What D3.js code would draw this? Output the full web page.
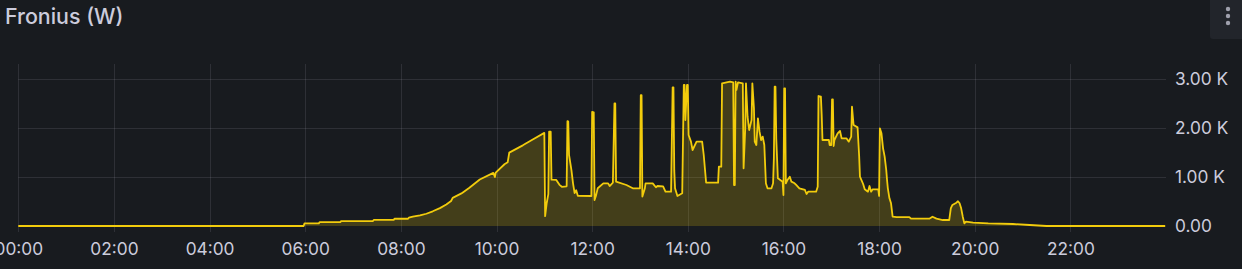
<!DOCTYPE html>
<html><head><meta charset="utf-8">
<script src="https://cdn.jsdelivr.net/npm/d3@7/dist/d3.min.js"></script>
<style>
html,body{margin:0;padding:0;background:#181b1f;overflow:hidden;}
svg{display:block;font-family:Inter,"Noto Sans",sans-serif;}
</style></head>
<body>
<svg id="chart" width="1242" height="269"></svg>
<script>
const title = "Fronius (W)";
const xTickLabels = ["00:00","02:00","04:00","06:00","08:00","10:00","12:00","14:00","16:00","18:00","20:00","22:00"];
const yTickValues = [0, 1000, 2000, 3000];
const yTickLabels = ["0.00","1.00 K","2.00 K","3.00 K"];
const times = ["00:00","05:58","05:59","06:17","06:18","06:44","06:45","07:25","07:26","07:51","07:52","08:09","08:10","08:15","08:24","08:32","08:40","08:49","08:57","09:03","09:05","09:16","09:26","09:39","09:56","09:58","09:59","10:10","10:14","10:16","10:33","10:46","11:00","11:01","11:03","11:05","11:06","11:08","11:09","11:15","11:19","11:22","11:28","11:29","11:30","11:31","11:34","11:36","11:38","11:40","11:42","11:59","12:00","12:02","12:03","12:05","12:07","12:14","12:20","12:22","12:26","12:28","12:29","12:30","12:43","12:51","13:00","13:01","13:02","13:03","13:06","13:07","13:16","13:20","13:22","13:29","13:32","13:39","13:41","13:42","13:43","13:44","13:47","13:53","13:55","13:56","13:57","13:59","14:00","14:01","14:04","14:06","14:11","14:18","14:20","14:22","14:23","14:38","14:39","14:42","14:43","14:53","14:57","14:58","14:59","15:00","15:01","15:03","15:09","15:10","15:12","15:13","15:15","15:17","15:20","15:21","15:23","15:24","15:26","15:28","15:30","15:32","15:34","15:36","15:38","15:40","15:45","15:47","15:48","15:49","15:50","15:51","15:53","15:56","15:59","16:00","16:01","16:02","16:03","16:05","16:08","16:10","16:14","16:16","16:20","16:27","16:29","16:31","16:41","16:43","16:44","16:47","16:48","16:49","16:57","16:58","17:00","17:01","17:02","17:03","17:04","17:08","17:11","17:13","17:19","17:22","17:25","17:26","17:28","17:33","17:35","17:36","17:40","17:42","17:46","17:48","17:50","17:52","17:59","18:00","18:01","18:03","18:05","18:07","18:09","18:10","18:11","18:13","18:15","18:17","18:22","18:38","18:40","19:03","19:07","19:12","19:20","19:28","19:30","19:32","19:37","19:39","19:41","19:43","19:45","19:47","19:49","19:58","20:17","20:48","21:09","21:30","23:59"];
const watts = [0,0,52,52,80,80,100,100,125,125,148,148,170,190,215,250,300,365,440,510,575,665,780,950,1085,1000,1090,1260,1300,1497,1646,1769,1900,200,470,650,1925,1925,945,940,840,800,810,2140,2130,1450,1140,870,670,730,615,612,2330,2320,530,630,770,870,870,816,884,2500,2500,905,837,769,769,2670,2670,600,760,870,870,790,816,810,700,700,2830,2830,1140,770,612,667,2878,2878,2163,2878,2878,1857,1721,1551,1721,1721,1449,1075,884,884,1211,1211,2912,2946,2930,837,837,2946,2776,2930,2912,1177,1959,2912,2231,1959,2163,2912,2401,1721,1653,2197,1925,1755,1823,1653,871,769,769,871,1381,2844,2844,1789,973,940,905,633,2810,2810,871,939,1007,905,871,837,769,735,653,701,701,803,2653,2640,2265,1755,1755,1653,1653,2585,2585,1633,1755,1891,1939,1789,1789,1721,1823,2435,2061,2013,1429,1007,857,748,701,816,701,748,748,612,1993,1891,1585,1415,1143,939,769,565,463,190,180,180,150,150,190,150,122,122,361,430,476,505,463,361,190,54,88,70,54,41,20,0,0];

const toMin = s => { const [h,m] = s.split(":").map(Number); return h*60+m; };
const data = times.map((t,i) => ({m: toMin(t), v: watts[i]}));

const svg = d3.select("#chart");
const x = d3.scaleLinear().domain([0, 1440]).range([18.3, 1166]);
const y = d3.scaleLinear().domain([0, 3000]).range([226, 79]);
const plotTop = 64;
const gridColor = "rgba(204,204,220,0.12)";
const textColor = "#ccccdc";

// title
svg.append("text").attr("x", 5).attr("y", 24).attr("fill", textColor)
  .attr("font-size", 21.4).attr("font-weight", 500).attr("font-family", "Inter").text(title);

// menu button
svg.append("path").attr("d", "M1210,0 H1242 V39 H1213 Q1210,39 1210,36 Z").attr("fill", "#22252b");
[9,16,23].forEach(cy => svg.append("circle").attr("cx", 1228).attr("cy", cy).attr("r", 2.2).attr("fill", "#9fa0ad"));

// vertical grid + x axis
const xTicks = xTickLabels.map(toMin);
svg.append("g").selectAll("line").data(xTicks).join("line")
  .attr("x1", d => Math.round(x(d))+0.5).attr("x2", d => Math.round(x(d))+0.5)
  .attr("y1", plotTop).attr("y2", 232)
  .attr("stroke", gridColor).attr("stroke-width", 1);
const xAxis = d3.axisBottom(x).tickValues(xTicks).tickSize(0).tickPadding(0)
  .tickFormat((d,i) => xTickLabels[i]);
const xa = svg.append("g").attr("transform", "translate(0,255)").call(xAxis);
xa.select(".domain").remove();
xa.selectAll("text").attr("fill", textColor).attr("font-size", 17.3).attr("font-family", "Inter").attr("dy", 0);

// horizontal grid + y axis
svg.append("g").selectAll("line").data(yTickValues.filter(v => v > 0)).join("line")
  .attr("x1", 18.3).attr("x2", 1166)
  .attr("y1", d => Math.round(y(d))+0.5).attr("y2", d => Math.round(y(d))+0.5)
  .attr("stroke", gridColor).attr("stroke-width", 1);
const yAxis = d3.axisRight(y).tickValues(yTickValues).tickSize(0).tickPadding(0)
  .tickFormat((d,i) => yTickLabels[i]);
const ya = svg.append("g").attr("transform", "translate(1175,0)").call(yAxis);
ya.select(".domain").remove();
ya.selectAll("text").attr("fill", textColor).attr("font-size", 17.3).attr("font-family", "Inter");

// area + line
const area = d3.area().x(d => x(d.m)).y0(y(0)).y1(d => y(d.v));
const line = d3.line().x(d => x(d.m)).y(d => y(d.v));
svg.append("path").datum(data).attr("d", area).attr("fill", "rgba(242,204,12,0.2)");
svg.append("path").datum(data).attr("d", line).attr("fill", "none")
  .attr("stroke", "#f2cc0c").attr("stroke-width", 1.8).attr("stroke-linejoin", "round");
</script>
</body></html>
